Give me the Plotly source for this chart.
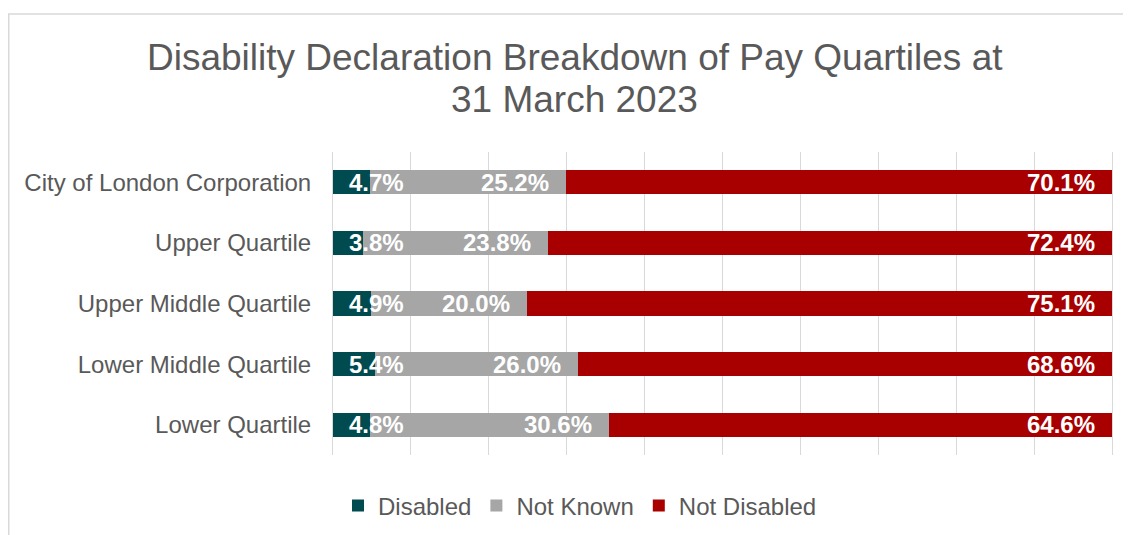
import plotly.graph_objects as go

categories = ["City of London Corporation", "Upper Quartile", "Upper Middle Quartile",
              "Lower Middle Quartile", "Lower Quartile"]
disabled = [4.7, 3.8, 4.9, 5.4, 4.8]
not_known = [25.2, 23.8, 20.0, 26.0, 30.6]
not_disabled = [70.1, 72.4, 75.1, 68.6, 64.6]
title_lines = ["Disability Declaration Breakdown of Pay Quartiles at", "31 March 2023"]

series = [("Disabled", disabled, "#004B50"),
          ("Not Known", not_known, "#A6A6A6"),
          ("Not Disabled", not_disabled, "#A80000")]

FONT = "Liberation Sans, Arial, sans-serif"
TXT = "#595959"

# page body has an 8px margin: figure origin is at screen (8, 8)
OFF = 8
W, H = 1131 - OFF, 535 - OFF
PL, PR, PT, PB = 333, 1112, 152, 455   # plot area in screen px
L, T = PL - OFF, PT - OFF
R = OFF + W - PR
B = OFF + H - PB
pw, ph = PR - PL, PB - PT


def px(x):
    return (x - PL) / pw


def py(y):
    return (PB - y) / ph


fig = go.Figure()
for name, vals, col in series:
    fig.add_trace(go.Bar(
        y=categories, x=vals, name=name, orientation="h",
        marker=dict(color=col, line=dict(width=0)), width=0.4,
        hoverinfo="x+name",
    ))

annotations = []
for i, cat in enumerate(categories):
    d, nk, nd = disabled[i], not_known[i], not_disabled[i]
    lab = dict(font=dict(family=FONT, size=24, color="white", weight="bold"),
               showarrow=False, y=cat, yref="y", xref="x", yanchor="middle")
    annotations.append(dict(lab, x=0, text=f"{d:.1f}%", xanchor="left", xshift=14))
    annotations.append(dict(lab, x=d + nk, text=f"{nk:.1f}%", xanchor="right", xshift=-15))
    annotations.append(dict(lab, x=d + nk + nd, text=f"{nd:.1f}%", xanchor="right", xshift=-15))

for line, ycen in zip(title_lines, [57, 100]):
    annotations.append(dict(text=line, xref="paper", yref="paper", x=px(574.5), y=py(ycen),
                            xanchor="center", yanchor="middle", showarrow=False,
                            font=dict(family=FONT, size=37, color=TXT)))

fig.update_layout(
    width=W, height=H,
    margin=dict(l=L, r=R, t=T, b=B, pad=0, autoexpand=False),
    paper_bgcolor="white", plot_bgcolor="white",
    barmode="stack", bargap=0.6,
    font=dict(family=FONT, color=TXT),
    xaxis=dict(range=[0, 100], dtick=10, showticklabels=False, showgrid=True,
               gridcolor="#D9D9D9", gridwidth=1, zeroline=False, showline=False,
               fixedrange=True),
    yaxis=dict(autorange="reversed", showgrid=False, zeroline=False,
               showline=True, mirror=True, linecolor="#D9D9D9", linewidth=1,
               tickfont=dict(family=FONT, size=24, color=TXT), ticklabelstandoff=16,
               ticks=""),
    legend=dict(orientation="h", xref="container", x=(580 - OFF) / W, xanchor="center",
                yref="container", y=1 - (506 - OFF) / H, yanchor="middle",
                font=dict(family=FONT, size=24, color=TXT), traceorder="normal",
                itemwidth=30),
    showlegend=True,
    annotations=annotations,
    shapes=[dict(type="rect", xref="paper", yref="paper",
                 x0=px(8.75), x1=px(1160),
                 y0=py(560), y1=py(14),
                 line=dict(color="#D9D9D9", width=1.5), fillcolor="rgba(0,0,0,0)",
                 layer="below")],
)

fig.write_html("out.html")
